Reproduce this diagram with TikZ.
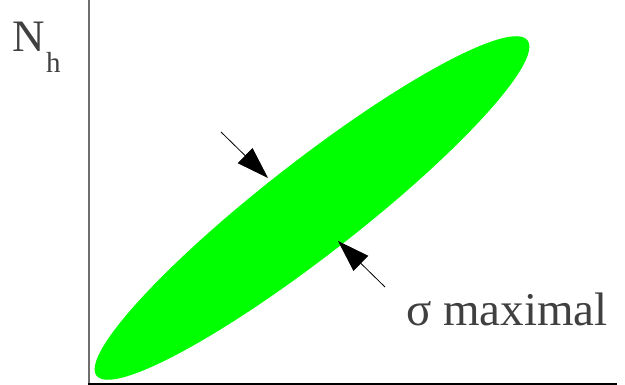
\documentclass[tikz,border=0pt]{standalone}
\usepackage{fontspec}
\setmainfont{LiberationSerif}[Extension=.ttf, UprightFont=*-Regular]
\usetikzlibrary{arrows.meta}
\definecolor{blobgreen}{RGB}{0,255,0}
\definecolor{labelgray}{RGB}{64,64,64}
\definecolor{axisgray}{RGB}{110,110,110}
\tikzset{
	plotlabel/.style={anchor=base west, inner sep=0pt, text=labelgray}
}
\begin{document}
\begin{tikzpicture}[x=1pt, y=1pt, >={Triangle[length=32pt, width=21pt]}]
	% Parameters of the distribution ellipse
	\def\Semimajor{273}
	\def\Semiminor{47}
	\def\Tilt{37.9}
	
	\useasboundingbox (0,0) rectangle (625,385);
	
	% 1. Axes
	% Vertical axis (gray)
	\draw[axisgray, line width=1.8pt] (89,1) -- (89,385);
	% Horizontal axis (black)
	\draw[black, line width=1.6pt] (88.2,1) -- (617,1);
	
	% 2. Green ellipse
	\fill[blobgreen, rotate around={\Tilt:(312,177)}] (312,177) ellipse ({\Semimajor} and {\Semiminor});
	
	% 3. Arrows marking the width
	\coordinate (upTail) at (221,253);
	\coordinate (upTip) at (268,207);
	\coordinate (lowTail) at (385,98);
	\coordinate (lowTip) at (338,144);
	\draw[->, line width=0.8pt] (upTail) -- (upTip);
	\draw[->, line width=0.8pt] (lowTail) -- (lowTip);
	
	% 4. Labels
	\node[plotlabel, font=\fontsize{45}{45}\selectfont] (nlabel) at (12,333) {N};
	\node[plotlabel, font=\fontsize{29}{29}\selectfont] (hlabel) at (46,312) {h};
	\node[plotlabel, font=\fontsize{47}{47}\selectfont] (sigmalabel) at (406,59) {σ maximal};
	
\end{tikzpicture}
\end{document}
